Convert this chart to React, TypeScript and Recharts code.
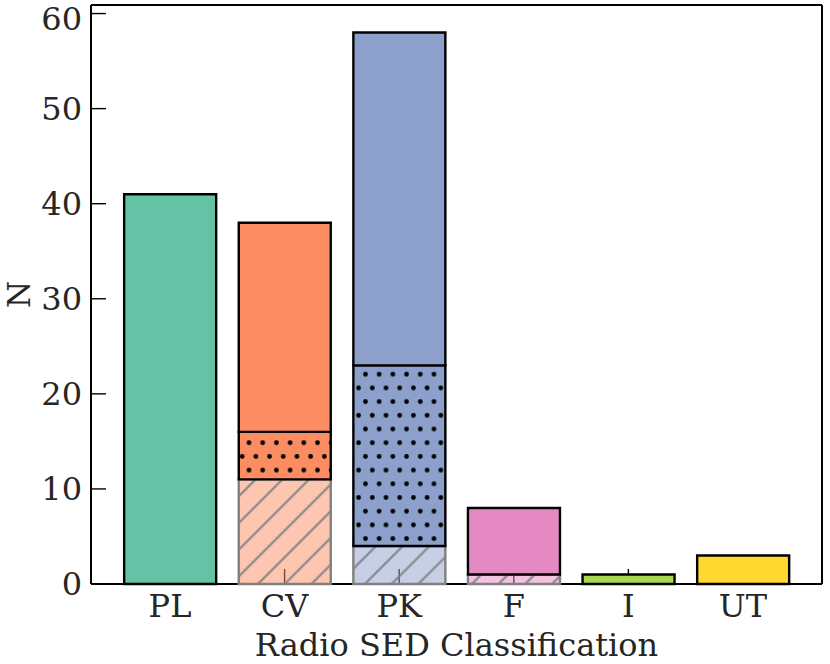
import React from "react"
import { BarChart, Bar, XAxis, YAxis, Cell } from "recharts"

const categories = ["PL", "CV", "PK", "F", "I", "UT"]
const hatchedCounts = [0, 11, 4, 1, 0, 0]
const dottedCounts = [0, 5, 19, 0, 0, 0]
const solidCounts = [41, 22, 35, 7, 1, 3]
const yTicks = [0, 10, 20, 30, 40, 50, 60]
const palette = ["#66c2a5", "#fc8d62", "#8da0cb", "#e78ac3", "#a6d854", "#ffd92f"]

const data = categories.map((name, i) => ({
    name,
    hatched: hatchedCounts[i],
    dotted: dottedCounts[i],
    solid: solidCounts[i],
}))

const FONT = "'DejaVu Serif', serif"
const TEXT = "#262626"
const HATCH = 18.9

function YLabel({ viewBox }: any) {
    const cy = viewBox.y + viewBox.height / 2
    const x = 29.5
    return (
        <text
            x={x}
            y={cy}
            transform={`rotate(-90, ${x}, ${cy})`}
            textAnchor="middle"
            fontFamily={FONT}
            fontSize={31}
            fill={TEXT}
        >
            N
        </text>
    )
}

export default function App() {
    return (
        <div style={{ position: "absolute", left: 0, top: 0, background: "#fff" }}>
            <BarChart
                width={830}
                height={664}
                data={data}
                margin={{ top: 0, right: 0, left: 0, bottom: 0 }}
                barCategoryGap="10%"
            >
                <defs>
                    {palette.map((c, i) => (
                        <pattern
                            key={`h-${i}`}
                            id={`hatch-${i}`}
                            patternUnits="userSpaceOnUse"
                            width={HATCH}
                            height={HATCH}
                            patternTransform="rotate(45)"
                        >
                            <rect width={HATCH} height={HATCH} fill={c} fillOpacity={0.5} />
                            <line x1={HATCH / 2} y1={0} x2={HATCH / 2} y2={HATCH} stroke="#808080" strokeWidth={2} />
                        </pattern>
                    ))}
                    {palette.map((c, i) => (
                        <pattern
                            key={`d-${i}`}
                            id={`dots-${i}`}
                            patternUnits="userSpaceOnUse"
                            x={245.6}
                            y={439.3}
                            width={13.7}
                            height={27.4}
                        >
                            <rect width={13.7} height={27.4} fill={c} />
                            <circle cx={3.4} cy={3.4} r={2.4} fill="#000" />
                            <circle cx={10.25} cy={17.1} r={2.4} fill="#000" />
                        </pattern>
                    ))}
                </defs>
                <XAxis
                    dataKey="name"
                    height={80}
                    zIndex={0}
                    padding={{ left: 21.7, right: 21.7 }}
                    tickSize={-15}
                    tickMargin={25.3}
                    tick={{ fill: TEXT, fontSize: 32, fontFamily: FONT }}
                    tickLine={{ stroke: "#000", strokeWidth: 1.4 }}
                    axisLine={{ stroke: "#000", strokeWidth: 2 }}
                    label={{
                        value: "Radio SED Classification",
                        position: "insideBottom",
                        offset: 8,
                        fill: TEXT,
                        fontSize: 32,
                        fontFamily: FONT,
                    }}
                />
                <XAxis
                    xAxisId="top"
                    dataKey="name"
                    orientation="top"
                    height={5}
                    tick={false}
                    tickLine={false}
                    axisLine={{ stroke: "#000", strokeWidth: 2 }}
                />
                <YAxis
                    width={91}
                    domain={[0, 60.9]}
                    ticks={yTicks}
                    tickSize={-15}
                    tickMargin={24}
                    tick={{ fill: TEXT, fontSize: 32, fontFamily: FONT }}
                    tickLine={{ stroke: "#000", strokeWidth: 1.4 }}
                    axisLine={{ stroke: "#000", strokeWidth: 2 }}
                    label={{ content: YLabel }}
                />
                <YAxis
                    yAxisId="right"
                    orientation="right"
                    width={8}
                    domain={[0, 60.9]}
                    tick={false}
                    tickLine={false}
                    axisLine={{ stroke: "#000", strokeWidth: 2 }}
                />
                <Bar dataKey="hatched" stackId="a" strokeWidth={2.4} isAnimationActive={false}>
                    {data.map((_, i) => (
                        <Cell key={`hc-${i}`} fill={`url(#hatch-${i})`} stroke="#808080" />
                    ))}
                </Bar>
                <Bar dataKey="dotted" stackId="a" strokeWidth={2.4} isAnimationActive={false}>
                    {data.map((_, i) => (
                        <Cell key={`dc-${i}`} fill={`url(#dots-${i})`} stroke="#000" />
                    ))}
                </Bar>
                <Bar dataKey="solid" stackId="a" strokeWidth={2.4} isAnimationActive={false}>
                    {data.map((_, i) => (
                        <Cell key={`sc-${i}`} fill={palette[i]} stroke="#000" />
                    ))}
                </Bar>
            </BarChart>
        </div>
    )
}
